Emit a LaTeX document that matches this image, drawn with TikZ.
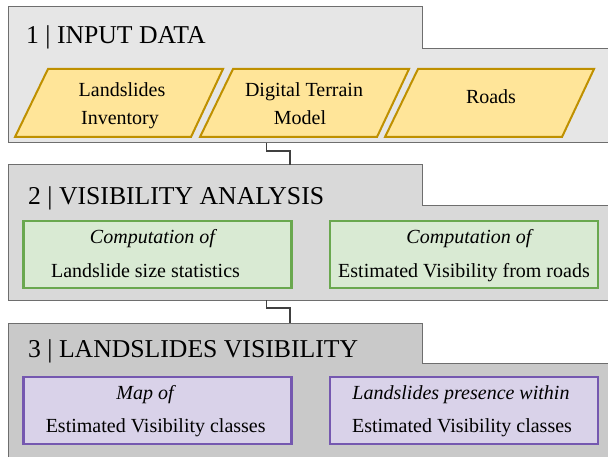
\documentclass[tikz,border=0pt]{standalone}
\usepackage{fontspec}
\setmainfont{Liberation Serif}
\definecolor{pone}{HTML}{E6E6E6}
\definecolor{ptwo}{HTML}{D9D9D9}
\definecolor{pthree}{HTML}{C9C9C9}
\definecolor{pborder}{HTML}{6E6E6E}
\definecolor{yfill}{HTML}{FFE599}
\definecolor{ydraw}{HTML}{BF9000}
\definecolor{gfill}{HTML}{D9EAD3}
\definecolor{gdraw}{HTML}{6AA84F}
\definecolor{vfill}{HTML}{D9D2E9}
\definecolor{vdraw}{HTML}{7558B0}
\definecolor{link}{HTML}{404040}
\tikzset{
  panel/.style={draw=pborder, line width=1pt},
  para/.style={draw=ydraw, fill=yfill, line width=2pt, line join=miter},
  gbox/.style={draw=gdraw, fill=gfill, line width=2.2pt, rectangle, inner sep=0pt, minimum width=268pt, minimum height=67pt},
  vbox/.style={draw=vdraw, fill=vfill, line width=2.2pt, rectangle, inner sep=0pt, minimum width=268pt, minimum height=67pt},
  title/.style={anchor=base west, inner sep=0pt, font=\fontsize{25.7}{30}\selectfont},
  txt/.style={anchor=base, inner sep=0pt, font=\fontsize{20}{24}\selectfont},
  itxt/.style={anchor=base, inner sep=0pt, font=\fontsize{20}{24}\selectfont\itshape},
  conn/.style={draw=link, line width=1.2pt},
}
\begin{document}
\begin{tikzpicture}[x=1pt, y=-1pt]
\useasboundingbox (0,0) rectangle (608,457);
\clip (0,0) rectangle (608,457);
\fill[white] (0,0) rectangle (608,457);
% panels
\draw[panel, fill=pone] (8,7) -- (422,7) -- (422,49) -- (615,49) -- (615,143) -- (8,143) -- cycle;
\draw[panel, fill=ptwo] (8,165) -- (422,165) -- (422,206) -- (615,206) -- (615,300) -- (8,300) -- cycle;
\draw[panel, fill=pthree] (8,323) -- (422,323) -- (422,363) -- (615,363) -- (615,470) -- (8,470) -- cycle;
\coordinate (p1b) at (266.5,143);
\coordinate (p2t) at (290,165);
\coordinate (p2b) at (266.5,300);
\coordinate (p3t) at (290,323);
\draw[conn] (p1b) -- ++(0,8) -| (p2t);
\draw[conn] (p2b) -- ++(0,8) -| (p3t);
% titles
\node[title] (t1) at (26,44) {1 | INPUT DATA};
\node[title] (t2) at (28,204.5) {2 | VISIBILITY ANALYSIS};
\node[title] (t3) at (28,357) {3 | LANDSLIDES VISIBILITY};
% input parallelograms
\draw[para] (48,69) -- (223,69) -- (191,137) -- (15,137) -- cycle;
\draw[para] (233,69) -- (409,69) -- (377,137) -- (200,137) -- cycle;
\draw[para] (418,69) -- (594,69) -- (562,137) -- (385,137) -- cycle;
\node[txt] (a1) at (122,96.5) {Landslides};
\node[txt] (a2) at (120,124.5) {Inventory};
\node[txt] (b1) at (304,96.5) {Digital Terrain};
\node[txt] (b2) at (300,124.5) {Model};
\node[txt] (c1) at (491,104) {Roads};
% analysis boxes
\node[gbox] (g1) at (157.5,254.5) {};
\node[gbox] (g2) at (464,254.5) {};
\node[itxt] (g1a) at (152.5,244) {Computation of};
\node[txt] (g1b) at (145.5,278) {Landslide size statistics};
\node[itxt] (g2a) at (469,244) {Computation of};
\node[txt] (g2b) at (464,278) {Estimated Visibility from roads};
% visibility boxes
\node[vbox] (v1) at (157.5,410.2) {};
\node[vbox] (v2) at (464,410.2) {};
\node[itxt] (v1a) at (145,399.3) {Map of};
\node[txt] (v1b) at (155.7,432) {Estimated Visibility classes};
\node[itxt] (v2a) at (461,399.3) {Landslides presence within};
\node[txt] (v2b) at (462,432) {Estimated Visibility classes};
\end{tikzpicture}
\end{document}
